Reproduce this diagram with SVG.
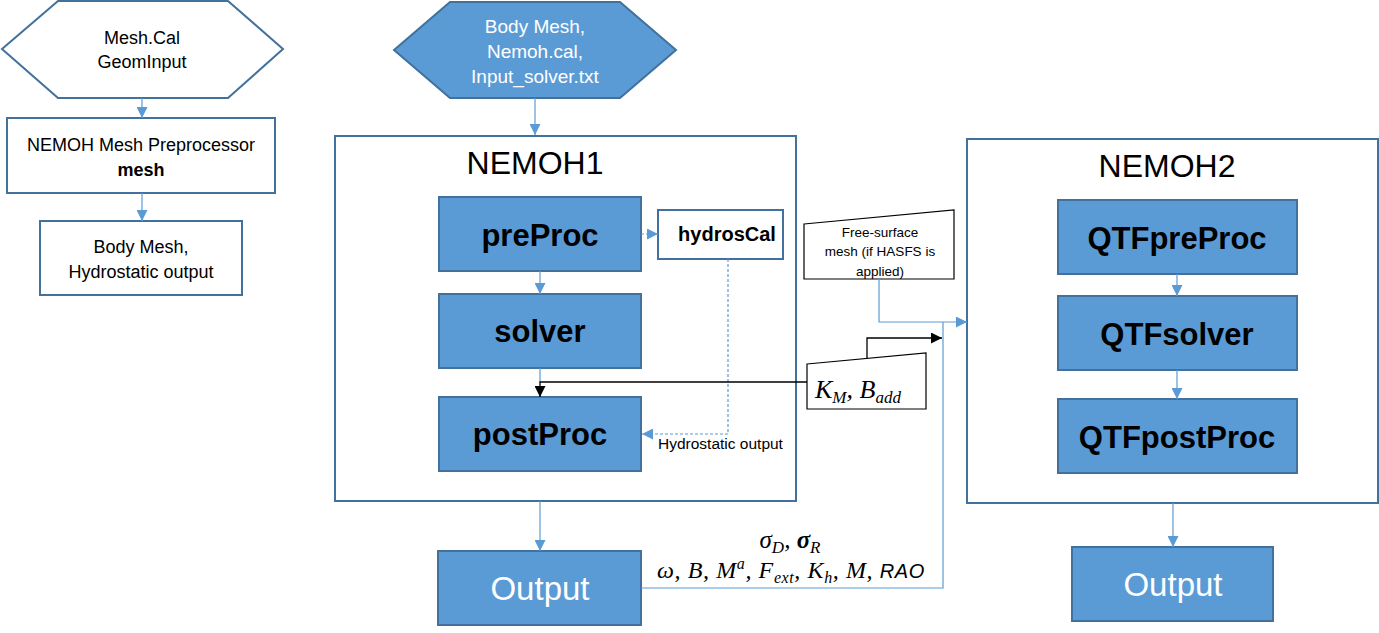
<svg xmlns="http://www.w3.org/2000/svg" width="1379" height="633" viewBox="0 0 1379 633">
<defs>
<marker id="ab" viewBox="0 0 10 10" refX="10" refY="5" markerWidth="11" markerHeight="11" markerUnits="userSpaceOnUse" orient="auto"><path d="M0,0 L10,5 L0,10 z" fill="#5B9BD5"/></marker>
<marker id="ak" viewBox="0 0 10 10" refX="10" refY="5" markerWidth="11" markerHeight="11" markerUnits="userSpaceOnUse" orient="auto"><path d="M0,0 L10,5 L0,10 z" fill="#000"/></marker>
</defs>
<style>
.sans{font-family:"Liberation Sans",Arial,sans-serif}
.math{font-family:"Liberation Serif","Times New Roman",serif;font-style:italic}
.blue{fill:#5B9BD5;stroke:#41719C;stroke-width:2}
.white{fill:#fff;stroke:#41719C;stroke-width:2}
.frame{fill:#fff;stroke:#41719C;stroke-width:2}
.thin{fill:#fff;stroke:#000;stroke-width:1.2}
.c{fill:none;stroke:#5B9BD5;stroke-width:1.2}
.d{fill:none;stroke:#5B9BD5;stroke-width:1.2;stroke-dasharray:3,2}
.k{fill:none;stroke:#000;stroke-width:1.3}
.big{font-size:31px;font-weight:bold;fill:#000}
.title{font-size:32px;fill:#000}
.out{font-size:33px;fill:#fff}
</style>

<g id="frame-nemoh1"><rect class="frame" x="335" y="136" width="461" height="365"/><text class="sans title" x="535" y="174" text-anchor="middle">NEMOH1</text></g>
<g id="frame-nemoh2"><rect class="frame" x="967" y="139" width="411" height="364"/><text class="sans title" x="1167" y="177" text-anchor="middle">NEMOH2</text></g>

<g id="meshcal"><polygon class="white" points="2,49 58,1 228,1 283,49 228,98 58,98"/>
<text class="sans" font-size="18" text-anchor="middle" x="142"><tspan x="142" y="44">Mesh.Cal</tspan><tspan x="142" y="68">GeomInput</tspan></text></g>

<g id="meshpre"><rect class="white" x="7" y="118" width="268" height="75"/>
<text class="sans" font-size="18" text-anchor="middle"><tspan x="141" y="151">NEMOH Mesh Preprocessor</tspan><tspan x="141" y="176" font-weight="bold">mesh</tspan></text></g>

<g id="bodymesh-out"><rect class="white" x="40" y="221" width="202" height="74"/>
<text class="sans" font-size="18" text-anchor="middle"><tspan x="141" y="253">Body Mesh,</tspan><tspan x="141" y="278">Hydrostatic output</tspan></text></g>

<g id="inputs"><polygon class="blue" points="394,50 450,2 620,2 676,50 620,98 450,98"/>
<text class="sans" font-size="19" fill="#fff" text-anchor="middle"><tspan x="535" y="33">Body Mesh,</tspan><tspan x="535" y="58">Nemoh.cal,</tspan><tspan x="535" y="83">Input_solver.txt</tspan></text></g>

<g id="preproc"><rect class="blue" x="439" y="197" width="202" height="74"/><text class="sans big" x="540" y="246" text-anchor="middle">preProc</text></g>
<g id="solver"><rect class="blue" x="439" y="294" width="202" height="74"/><text class="sans big" x="540" y="342" text-anchor="middle">solver</text></g>
<g id="postproc"><rect class="blue" x="439" y="397" width="202" height="74"/><text class="sans big" x="540" y="445" text-anchor="middle">postProc</text></g>
<g id="hydroscal"><rect class="white" x="658" y="210" width="125" height="49"/><text class="sans" font-size="20" font-weight="bold" x="727" y="241" text-anchor="middle">hydrosCal</text></g>

<g id="output1"><rect class="blue" x="438" y="551" width="203" height="74"/><text class="sans out" x="540" y="600" text-anchor="middle">Output</text></g>

<g id="freesurface"><polygon class="thin" points="804,224 954,210 954,279 804,279"/>
<text class="sans" font-size="13.5" text-anchor="middle"><tspan x="880" y="237">Free-surface</tspan><tspan x="880" y="256">mesh (if HASFS is</tspan><tspan x="880" y="276">applied)</tspan></text></g>

<g id="kmbadd"><polygon class="thin" points="807,364 926,353 926,409 807,409"/>
<text class="math" font-size="26" x="815" y="398">K<tspan font-size="17" dy="5">M</tspan><tspan dy="-5">, B</tspan><tspan font-size="17" dy="5">add</tspan></text></g>

<g id="qtfpre"><rect class="blue" x="1058" y="200" width="239" height="74"/><text class="sans big" x="1177" y="249" text-anchor="middle">QTFpreProc</text></g>
<g id="qtfsolver"><rect class="blue" x="1058" y="296" width="239" height="74"/><text class="sans big" x="1177" y="345" text-anchor="middle">QTFsolver</text></g>
<g id="qtfpost"><rect class="blue" x="1058" y="399" width="239" height="74"/><text class="sans big" x="1177" y="448" text-anchor="middle">QTFpostProc</text></g>
<g id="output2"><rect class="blue" x="1072" y="547" width="201" height="74"/><text class="sans out" x="1173" y="596" text-anchor="middle">Output</text></g>

<g id="connectors">
<path class="c" d="M142,98 V118" marker-end="url(#ab)"/>
<path class="c" d="M142,193 V221" marker-end="url(#ab)"/>
<path class="c" d="M535,98 V135" marker-end="url(#ab)"/>
<path class="c" d="M540,271 V294" marker-end="url(#ab)"/>
<path class="d" d="M641,234 H658" marker-end="url(#ab)"/>
<path class="d" d="M728,259 V434 H642" marker-end="url(#ab)"/>
<path class="c" d="M540,368 V382"/>
<path class="k" d="M807,382 H540 V397" marker-end="url(#ak)"/>
<path class="k" d="M867,358 V338 H942" marker-end="url(#ak)"/>
<path class="c" d="M879,279 V322 H967" marker-end="url(#ab)"/>
<path class="c" d="M641,588 H943 V322"/>
<path class="c" d="M540,501 V551" marker-end="url(#ab)"/>
<path class="c" d="M1177,274 V296" marker-end="url(#ab)"/>
<path class="c" d="M1177,370 V399" marker-end="url(#ab)"/>
<path class="c" d="M1173,503 V547" marker-end="url(#ab)"/>
</g>

<g id="labels">
<text class="math" font-size="25" x="790" y="548" text-anchor="middle">σ<tspan font-size="17" dy="5">D</tspan><tspan dy="-5">, </tspan><tspan font-weight="bold">σ</tspan><tspan font-size="17" dy="5">R</tspan></text>
<text class="math" font-size="24" x="657" y="578" letter-spacing="0.6">ω, B, M<tspan font-size="16" dy="-9">a</tspan><tspan dy="9">, F</tspan><tspan font-size="16" dy="5">ext</tspan><tspan dy="-5">, K</tspan><tspan font-size="16" dy="5">h</tspan><tspan dy="-5">, M, </tspan><tspan font-family="Liberation Sans, sans-serif" font-size="20">RAO</tspan></text>
<text class="sans" font-size="15.5" x="658" y="449">Hydrostatic output</text>
</g>
</svg>
